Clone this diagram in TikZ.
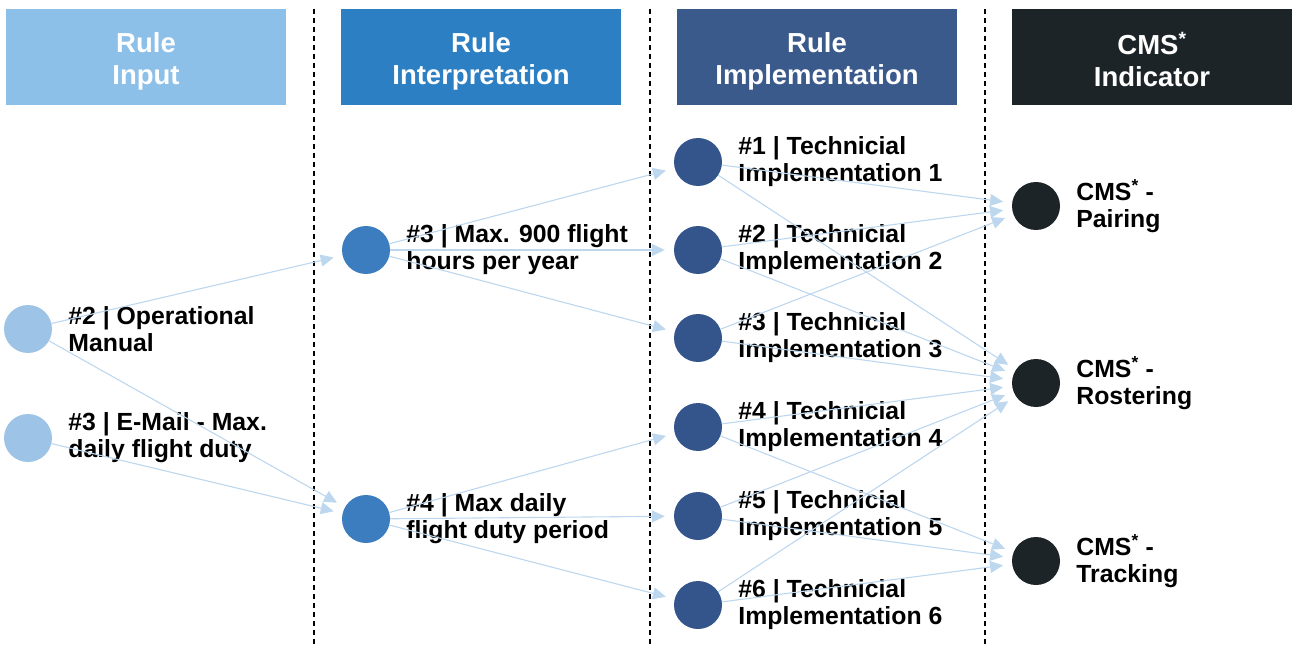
\documentclass[tikz,border=0pt]{standalone}
\usepackage{fontspec}
\setmainfont{Liberation Sans}
\usetikzlibrary{arrows.meta,positioning}
\definecolor{inputblue}{HTML}{8DC0E8}
\definecolor{inputdot}{HTML}{9DC3E6}
\definecolor{interpblue}{HTML}{2C7FC2}
\definecolor{interpdot}{HTML}{3C7DC0}
\definecolor{implblue}{HTML}{3B5A8C}
\definecolor{impldot}{HTML}{34558B}
\definecolor{cmsdark}{HTML}{1C2428}
\definecolor{linkblue}{HTML}{BDD7EE}

\begin{document}
\begin{tikzpicture}[x=1pt,y=-1pt,
        head/.style={minimum width=280pt,minimum height=96pt,inner sep=0,text=white,align=center,font=\fontsize{27.5}{32}\selectfont\bfseries},
        dot/.style={circle,minimum size=48pt,inner sep=0},
        lbl/.style={inner sep=0,align=left,font=\fontsize{24.8}{27}\selectfont\bfseries},
        link/.style={color=linkblue,line width=1.1pt,-{Triangle[length=13pt,width=12pt]},shorten >=9pt}]
        \useasboundingbox (0,0) rectangle (1293,647);
        % column heads
        \node[head,fill=inputblue] (hin) at (146,57) {\rule{0pt}{28pt}Rule\\Input};
        \node[head,fill=interpblue] (hip) at (481,57) {\rule{0pt}{28pt}Rule\\Interpretation};
        \node[head,fill=implblue] (him) at (817,57) {\rule{0pt}{28pt}Rule\\Implementation};
        \node[head,fill=cmsdark] (hcms) at (1152,57) {\rule{0pt}{28pt}CMS\smash{\textsuperscript{*}}\\Indicator};
        \foreach \x in {314,650,985}
            \draw[line width=1.2pt,dash pattern=on 5pt off 4pt] (\x,9) -- (\x,647);
        % rule input
        \node[dot,fill=inputdot] (in2) at (28,329) {};
        \node[dot,fill=inputdot] (in3) at (28,438) {};
        \node[lbl,right=16pt of in2] {\#2 | Operational\\Manual};
        \node[lbl,right=16pt of in3] {\#3 | E-Mail - Max.\\daily flight duty};
        % rule interpretation
        \node[dot,fill=interpdot] (ip3) at (366,250) {};
        \node[dot,fill=interpdot] (ip4) at (366,519) {};
        \node[lbl,right=16pt of ip3] {\#3 | Max. 900 flight\\hours per year};
        \node[lbl,right=16pt of ip4] {\#4 | Max daily\\flight duty period};
        % rule implementation
        \foreach \i/\y in {1/162,2/250,3/338,4/427,5/516,6/605} {
            \node[dot,fill=impldot] (t\i) at (698,\y) {};
            \node[lbl,right=16pt of t\i] {\#\i\ | Technicial\\Implementation \i};
        }
        % cms indicator
        \node[dot,fill=cmsdark] (pair) at (1036,206) {};
        \node[dot,fill=cmsdark] (rost) at (1036,383) {};
        \node[dot,fill=cmsdark] (track) at (1036,561) {};
        \node[lbl,right=16pt of pair] {CMS\textsuperscript{*} -\\Pairing};
        \node[lbl,right=16pt of rost] {CMS\textsuperscript{*} -\\Rostering};
        \node[lbl,right=16pt of track] {CMS\textsuperscript{*} -\\Tracking};
        % links
        \foreach \a/\b in {in2/ip3,in2/ip4,in3/ip4,ip3/t1,ip3/t2,ip3/t3,ip4/t4,ip4/t5,ip4/t6,
                t1/pair,t1/rost,t2/pair,t2/rost,t3/pair,t3/rost,
                t4/rost,t4/track,t5/rost,t5/track,t6/rost,t6/track}
            \draw[link] (\a) -- (\b);
    \end{tikzpicture}
\end{document}
